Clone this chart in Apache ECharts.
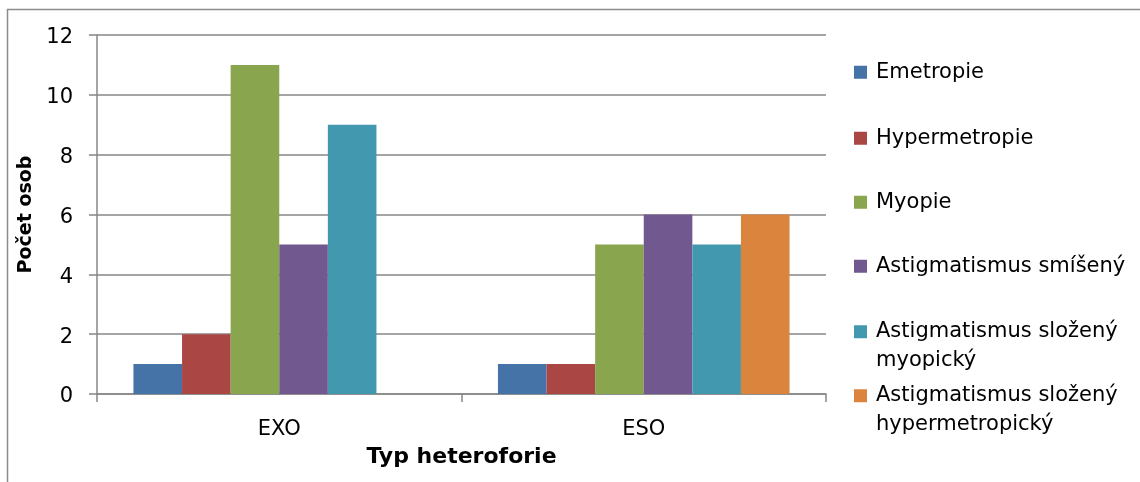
<!DOCTYPE html>
<html>
<head>
<meta charset="utf-8">
<script src="https://cdn.jsdelivr.net/npm/echarts@6/dist/echarts.min.js"></script>
<style>html,body{margin:0;padding:0;background:#fff;}#c{width:1140px;height:482px;}</style>
</head>
<body>
<div id="c"></div>
<script>
const categories = ['EXO', 'ESO'];
const seriesNames = ['Emetropie', 'Hypermetropie', 'Myopie', 'Astigmatismus smíšený', 'Astigmatismus složený myopický', 'Astigmatismus složený hypermetropický'];
const emetropie = [1, 1];
const hypermetropie = [2, 1];
const myopie = [11, 5];
const astigSmiseny = [5, 6];
const astigSlozenyMyopicky = [9, 5];
const astigSlozenyHypermetropicky = [0, 6];
const yTicks = [0, 2, 4, 6, 8, 10, 12];

const values = [emetropie, hypermetropie, myopie, astigSmiseny, astigSlozenyMyopicky, astigSlozenyHypermetropicky];
const colors = ['#4572A7', '#AA4643', '#89A54E', '#71588F', '#4198AF', '#DB843D'];
const legendLabels = ['Emetropie', 'Hypermetropie', 'Myopie', 'Astigmatismus smíšený', '\nAstigmatismus složený\nmyopický', '\nAstigmatismus složený\nhypermetropický'];
const legendTops = [58, 124, 188, 252, 289, 353];
const FONT = 'DejaVu Sans';

const legends = seriesNames.map((n, i) => ({
  data: [n],
  left: 854,
  top: legendTops[i],
  orient: 'vertical',
  itemWidth: 13,
  itemHeight: 13,
  itemGap: 0,
  padding: 0,
  itemStyle: {borderWidth: 0},
  selectedMode: false,
  formatter: () => legendLabels[i],
  textStyle: {fontFamily: FONT, fontSize: 21, color: '#000', lineHeight: 28.5, padding: [0, 0, 0, 4]},
  icon: 'rect'
}));

const chart = echarts.init(document.getElementById('c'), null, {renderer: 'canvas'});
chart.setOption({
  animation: false,
  backgroundColor: '#fff',
  graphic: [{
    type: 'rect', shape: {x: 7.5, y: 9.5, width: 1300, height: 700},
    style: {fill: 'none', stroke: '#8c8c8c', lineWidth: 1.5}, silent: true
  }],
  legend: legends,
  grid: {left: 97, top: 35, right: 314, bottom: 88, containLabel: false},
  xAxis: {
    type: 'category',
    data: categories,
    name: 'Typ heteroforie',
    nameLocation: 'middle',
    nameGap: 52,
    nameTextStyle: {fontFamily: FONT, fontWeight: 'bold', fontSize: 22, color: '#000'},
    axisLine: {lineStyle: {color: '#878787', width: 1.5}},
    axisTick: {show: true, length: 8, interval: 0, lineStyle: {color: '#878787', width: 1.5}},
    axisLabel: {fontFamily: FONT, fontSize: 21, color: '#000', margin: 25},
    splitLine: {show: false}
  },
  yAxis: {
    type: 'value',
    min: yTicks[0],
    max: yTicks[yTicks.length - 1],
    interval: yTicks[1] - yTicks[0],
    name: 'Počet osob',
    nameLocation: 'middle',
    nameGap: 56,
    nameRotate: 90,
    nameTextStyle: {fontFamily: FONT, fontWeight: 'bold', fontSize: 19, color: '#000'},
    axisLine: {show: true, lineStyle: {color: '#878787', width: 1.5}},
    axisTick: {show: true, length: 8, lineStyle: {color: '#878787', width: 1.5}},
    axisLabel: {
      margin: 24,
      formatter: '{a|{value}}',
      rich: {a: {fontFamily: FONT, fontSize: 21, color: '#000', padding: [6, 0, 0, 0]}}
    },
    splitLine: {show: true, lineStyle: {color: '#878787', width: 1.5}}
  },
  series: seriesNames.map((n, i) => ({
    name: n,
    type: 'bar',
    data: values[i],
    barGap: '0%',
    barCategoryGap: '20%',
    itemStyle: {color: colors[i]},
    emphasis: {disabled: true}
  }))
});
</script>
</body>
</html>
